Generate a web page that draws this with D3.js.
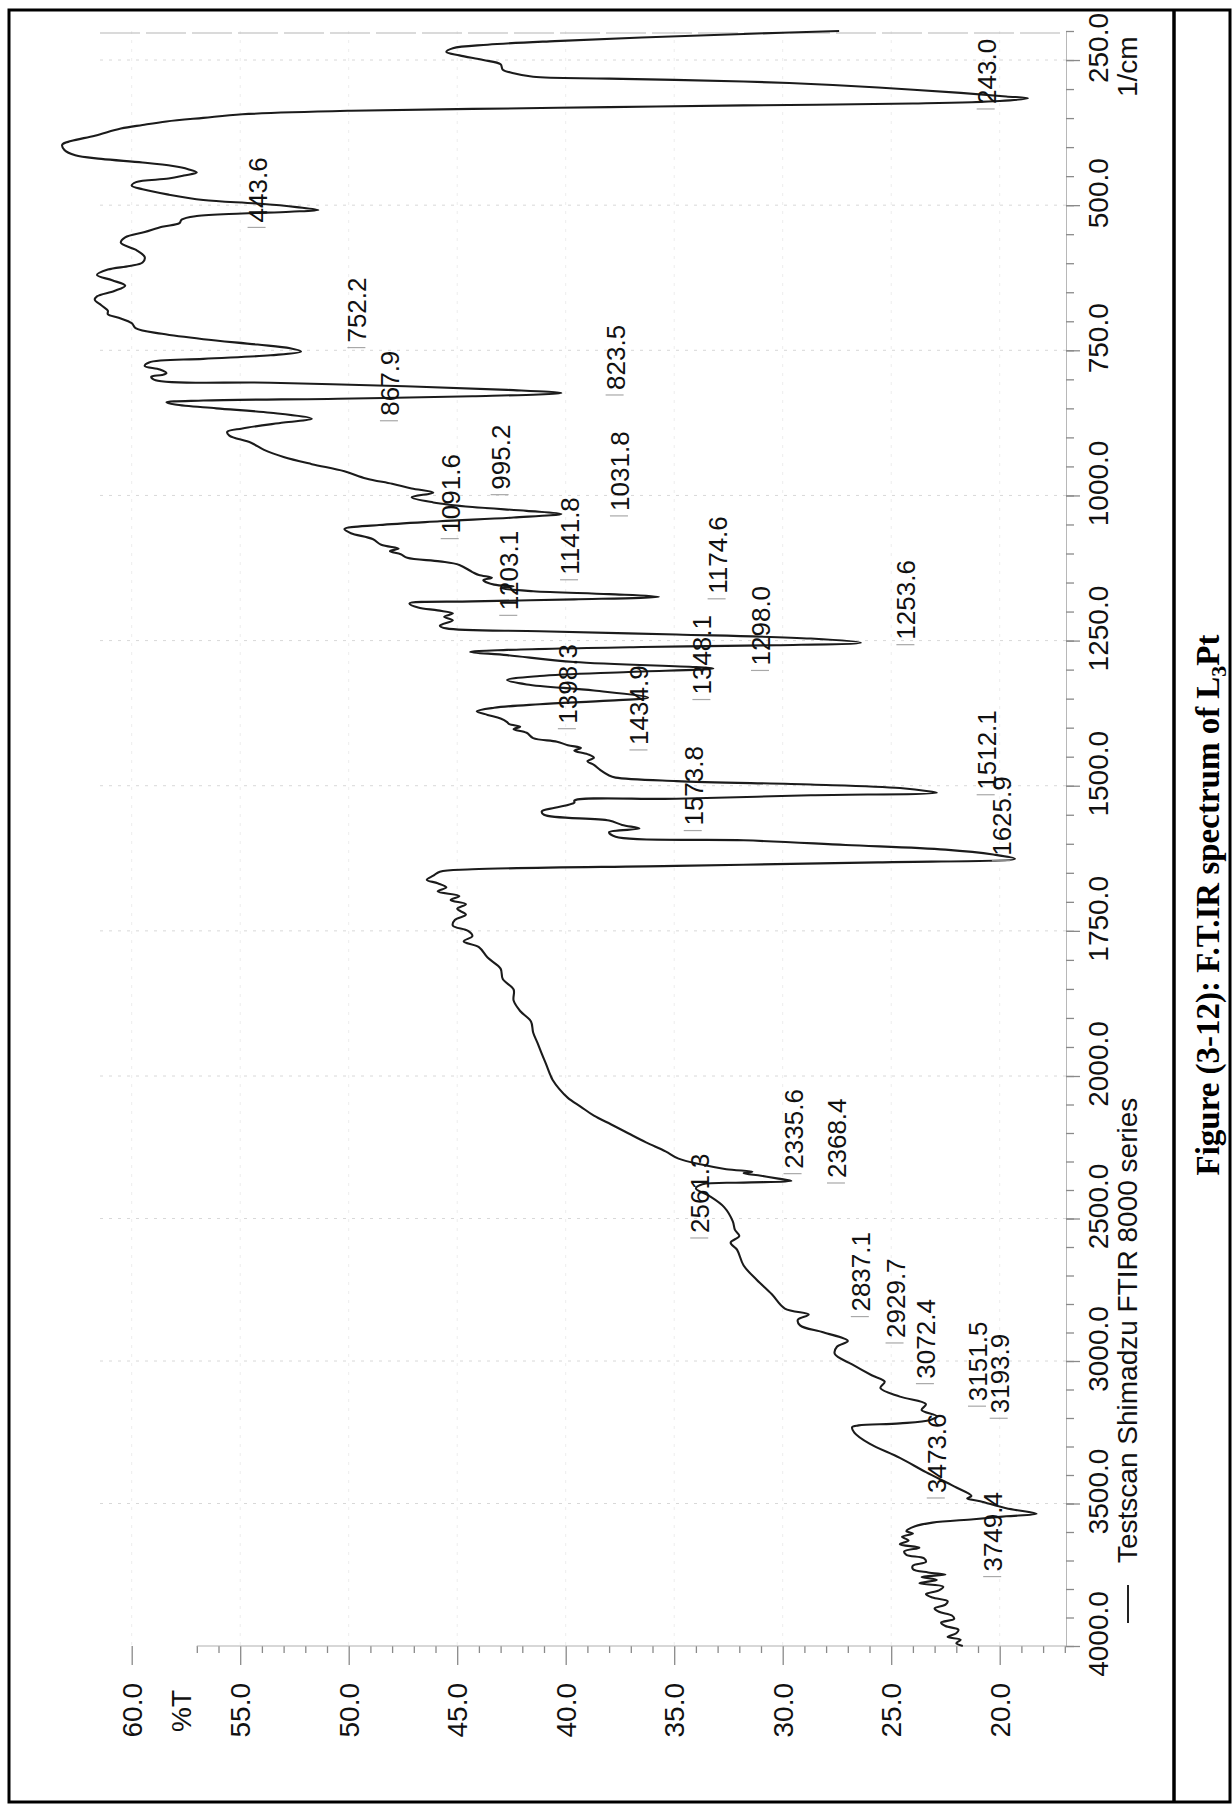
<!DOCTYPE html>
<html><head><meta charset="utf-8">
<script src="https://cdn.jsdelivr.net/npm/d3@7"></script>
<style>
html,body{margin:0;padding:0;background:#fff;}
svg{display:block;}
</style></head>
<body>
<svg id="chart" width="1232" height="1805"></svg>
<script>
// FT-IR spectrum of L3Pt, printed sideways (wavenumber runs bottom -> top, %T right -> left)

// spectrum samples: wavenumber (1/cm) and transmittance (%T)
const wavenumber = [
200,205.1,211.3,217.4,223.6,229.7,235.9,242.0,250.0,257.4,266.6,272.8,278.9,282.0,286.9,291.2,297.4,306.6,312.7,315.8,
320.7,325.0,328.1,331.2,334.2,337.3,343.5,349.6,355.8,361.9,368.1,380.4,389.6,395.7,405.0,414.2,420.3,426.5,432.6,438.0,
443.6,449.0,454.2,460.3,466.4,472.6,481.8,491.0,497.2,503.3,508.3,511.3,514.4,518.7,524.9,531.0,537.2,546.4,555.6,564.8,
577.1,589.4,598.7,604.8,611.0,620.2,629.4,638.6,647.8,657.1,663.2,672.4,681.7,687.8,694.0,703.2,712.4,721.6,730.9,740.1,
746.5,752.2,758.5,764.7,770.9,777.0,783.2,789.3,792.4,795.5,801.6,805.8,811.9,818.1,823.5,829.2,833.4,836.5,839.6,843.5,
850.0,857.5,867.9,874.5,884.6,890.7,896.9,909.2,921.5,933.8,946.1,958.4,970.7,980.0,988.0,995.2,1003.0,1012.0,1020.0,1026.5,
1031.8,1038.0,1044.5,1051.0,1058.0,1065.0,1075.0,1085.0,1091.6,1096.0,1101.3,1107.4,1113.6,1119.7,1132.0,1137.0,1141.8,1146.0,1153.6,1156.6,
1160.0,1165.0,1170.0,1174.6,1179.0,1182.5,1186.0,1193.0,1198.0,1203.1,1209.0,1215.1,1224.3,1229.0,1234.0,1239.5,1246.5,1253.6,1258.0,1261.0,
1266.0,1269.5,1275.0,1287.0,1298.0,1304.0,1311.0,1318.0,1325.5,1336.0,1348.1,1353.4,1359.6,1365.7,1371.9,1378.0,1384.2,1390.3,1394.0,1398.3,
1402.6,1408.8,1418.0,1424.1,1430.3,1434.9,1439.5,1445.6,1451.8,1457.9,1464.1,1473.3,1482.5,1486.0,1492.0,1498.0,1504.0,1510.0,1512.1,1516.5,
1522.5,1525.5,1529.0,1538.0,1544.0,1550.0,1560.0,1567.5,1573.8,1580.0,1588.0,1594.0,1602.0,1610.0,1618.5,1625.9,1632.0,1638.0,1644.0,1648.0,
1655.0,1662.0,1668.0,1675.0,1682.0,1690.0,1697.0,1704.0,1712.0,1722.0,1731.0,1741.0,1750.0,1759.0,1768.0,1778.0,1796.0,1815.0,1833.0,1851.0,
1870.0,1888.0,1906.0,1925.0,1943.0,1962.0,1980.0,1999.0,2014.0,2045.0,2076.6,2108.0,2139.3,2170.0,2201.9,2233.0,2264.5,2290.0,2310.0,2327.0,
2335.6,2341.0,2350.0,2360.0,2368.4,2374.0,2380.0,2395.0,2420.0,2460.0,2510.0,2540.0,2561.3,2585.0,2610.0,2665.0,2715.0,2766.0,2816.0,2837.1,
2855.0,2875.0,2900.0,2929.7,2950.0,2975.0,3012.0,3050.0,3072.4,3095.0,3125.0,3151.5,3172.0,3193.9,3207.0,3219.0,3226.0,3232.0,3251.0,3290.0,
3340.0,3390.0,3440.0,3473.6,3482.0,3492.0,3517.0,3536.0,3545.0,3555.0,3567.0,3580.0,3597.0,3605.0,3617.0,3630.0,3643.0,3655.0,3668.0,3680.0,
3692.0,3705.0,3718.0,3730.0,3742.0,3749.4,3758.0,3768.0,3780.0,3792.0,3805.0,3818.0,3830.0,3843.0,3855.0,3868.0,3880.0,3893.0,3905.0,3918.0,
3930.0,3943.0,3955.0,3968.0,3978.0,3990.0,4000.0
];
const transmittance = [
27.4,31.8,36.5,40.5,43.6,45.2,45.5,44.9,43.8,43.0,42.9,42.4,41.5,38.0,31.8,28.7,25.6,21.8,19.7,18.7,
20.0,24.0,31.8,38.0,44.3,49.9,54.9,56.7,58.4,59.5,60.5,61.7,62.8,63.2,63.1,62.6,61.4,59.5,58.1,57.4,
57.0,57.6,58.3,59.8,60.0,59.5,58.3,56.7,54.2,52.4,51.4,52.7,54.9,57.0,57.7,57.8,58.6,59.4,60.3,60.5,
59.8,59.4,59.5,60.1,61.1,61.6,60.9,60.3,60.8,61.6,61.7,61.4,61.1,61.1,60.6,60.0,59.8,58.6,56.7,54.2,
52.7,52.2,53.6,56.7,59.2,59.4,58.7,58.4,58.6,59.1,58.9,53.6,47.4,42.7,40.2,44.3,50.5,56.7,58.4,58.0,
56.1,53.6,51.7,53.0,54.9,55.6,55.5,54.5,53.9,53.0,51.7,50.2,49.2,48.0,47.1,46.1,47.1,46.1,44.3,41.8,
40.2,42.4,45.8,48.6,50.2,49.9,48.9,48.5,47.7,48.1,47.6,47.3,45.8,44.9,44.3,44.0,43.4,43.8,43.3,42.4,
43.0,41.5,38.0,35.7,39.6,44.3,47.2,46.8,45.9,45.2,45.6,45.2,45.8,45.5,41.2,34.9,28.7,26.4,30.3,36.5,
42.7,44.4,42.7,39.6,33.2,37.1,41.2,42.7,41.8,38.7,36.2,38.0,41.2,43.3,44.1,43.6,43.0,42.7,42.6,42.1,
42.4,41.8,41.5,40.4,39.9,39.3,39.6,39.0,38.7,39.0,38.7,38.4,38.0,37.7,34.9,28.7,24.6,23.2,22.9,28.7,
34.9,39.6,39.6,40.5,41.1,41.0,38.0,37.4,36.6,38.0,37.7,31.8,27.1,22.5,20.3,19.3,25.6,34.9,44.3,45.8,
46.1,46.4,45.9,45.5,45.9,44.9,45.3,44.6,45.0,44.6,45.1,45.2,44.5,44.3,44.7,44.0,43.6,43.0,42.9,42.4,
42.4,42.1,41.6,41.5,41.3,41.1,40.9,40.7,40.6,40.3,39.9,39.3,38.7,37.9,37.1,36.3,35.4,34.8,33.8,32.6,
31.4,31.8,31.0,30.2,29.6,31.8,33.7,34.0,33.4,32.7,32.3,32.2,32.0,32.4,32.1,31.8,31.2,30.5,29.9,28.8,
29.3,29.2,28.1,27.0,27.5,27.6,26.8,25.9,25.3,25.5,24.6,23.4,23.6,22.9,23.2,24.6,26.5,26.8,26.7,26.0,
24.6,23.4,22.1,21.3,21.5,20.9,19.7,18.3,19.7,21.2,23.1,23.9,24.3,24.0,24.5,24.2,24.6,23.7,24.4,24.3,
23.5,23.4,24.0,24.0,23.3,22.5,23.6,22.9,23.7,22.6,22.8,23.4,23.1,22.4,22.5,23.0,22.8,22.2,22.1,22.7,
22.5,21.9,22.0,22.4,21.8,22.0,21.7
];

// axis ticks
const wavenumberTicks = [4000, 3500, 3000, 2500, 2000, 1750, 1500, 1250, 1000, 750, 500, 250];
const wavenumberTickLabels = ["4000.0", "3500.0", "3000.0", "2500.0", "2000.0", "1750.0", "1500.0", "1250.0", "1000.0", "750.0", "500.0", "250.0"];
const transmittanceTicks = [60, 55, 50, 45, 40, 35, 30, 25, 20];
const transmittanceTickLabels = ["60.0", "55.0", "50.0", "45.0", "40.0", "35.0", "30.0", "25.0", "20.0"];

// picked peaks (1/cm)
const peakPositions = [243.0, 443.6, 752.2, 823.5, 867.9, 995.2, 1031.8, 1091.6, 1141.8, 1174.6,
  1203.1, 1253.6, 1298.0, 1348.1, 1398.3, 1434.9, 1512.1, 1573.8, 1625.9, 2335.6,
  2368.4, 2561.3, 2837.1, 2929.7, 3072.4, 3151.5, 3193.9, 3473.6, 3749.4];
const peakLabels = peakPositions.map(v => v.toFixed(1));

// peak label layout: column (in %T units) and shift along the wavenumber axis (px)
const peakLabelColumn = [20.6, 54.2, 49.6, 37.7, 48.1, 43.0, 37.5, 45.3, 39.8, 33.0,
  42.6, 24.3, 31.0, 33.7, 39.9, 36.6, 20.6, 34.1, 19.9, 29.5,
  27.5, 33.8, 26.4, 24.8, 23.4, 21.0, 20.0, 22.9, 20.3];
const peakLabelShift = [51, 53, -6, 0, 0, 0, 0, -12, 0, 0,
  0, 0, 0, 0, 0, 0, 0, 0, 0, 0,
  0, 0, 0, 0, 0, 0, 0, 0, 0];

const unitText = "1/cm";
const axisTitle = "%T";
const legendText = "Testscan Shimadzu FTIR 8000 series";
const captionMain = "Figure (3-12): F.T.IR spectrum of L";
const captionSub = "3";
const captionEnd = "Pt";

const svg = d3.select("#chart");
const SANS = "'Liberation Sans', Arial, Helvetica, sans-serif";
const SERIF = "'Liberation Serif', 'Times New Roman', serif";

// scales: wavenumber -> vertical position (two-speed axis), %T -> horizontal position
const y = d3.scaleLinear().domain([4000, 2000, 200]).range([1646, 1076, 31]);
const x = d3.scaleLinear().domain([60, 20]).range([131.7, 999.7]);

const frameRight = 1066;     // wavenumber axis line
const frameBottom = y(4000); // %T axis line
const frameTop = y(200);
const frameLeft = 100;

// page frame
svg.append("rect").attr("x", 9).attr("y", 10).attr("width", 1221).attr("height", 1792)
  .attr("fill", "none").attr("stroke", "#000").attr("stroke-width", 3);
svg.append("line").attr("x1", 1174).attr("x2", 1174).attr("y1", 10).attr("y2", 1802)
  .attr("stroke", "#000").attr("stroke-width", 3.5);

// faint grid
const grid = svg.append("g").attr("stroke-width", 1).attr("stroke-dasharray", "3,6");
grid.selectAll("line.h").data(wavenumberTicks.filter(v => v !== 4000)).join("line")
  .attr("x1", frameLeft).attr("x2", frameRight).attr("y1", d => y(d)).attr("y2", d => y(d))
  .attr("stroke", "#d8d8d8");
grid.selectAll("line.v").data(transmittanceTicks).join("line")
  .attr("x1", d => x(d)).attr("x2", d => x(d)).attr("y1", frameTop).attr("y2", frameBottom)
  .attr("stroke", "#ededed");

// top edge of the plotting frame
svg.append("line").attr("x1", frameLeft).attr("x2", frameRight).attr("y1", frameTop + 2).attr("y2", frameTop + 2)
  .attr("stroke", "#b5b5b5").attr("stroke-width", 1.2).attr("stroke-dasharray", "40,6");

// wavenumber axis (right side)
const minorNu = d3.range(200, 2000, 50).concat(d3.range(2000, 4001, 100));
const nuAxisMinor = d3.axisRight(y).tickValues(minorNu).tickSize(8).tickSizeOuter(0).tickFormat("");
const nuAxisMajor = d3.axisRight(y).tickValues(wavenumberTicks).tickSize(14).tickSizeOuter(0).tickFormat("");
const gNuMinor = svg.append("g").attr("transform", `translate(${frameRight},0)`).call(nuAxisMinor);
const gNuMajor = svg.append("g").attr("transform", `translate(${frameRight},0)`).call(nuAxisMajor);
[gNuMinor, gNuMajor].forEach(g => {
  g.select(".domain").attr("stroke", "#b8b8b8").attr("stroke-width", 1);
  g.selectAll(".tick line").attr("stroke", "#8a8a8a").attr("stroke-width", 1.3);
});
gNuMajor.select(".domain").remove();

svg.append("g").selectAll("text").data(wavenumberTicks).join("text")
  .attr("transform", d => `translate(1108,${y(d) - 12}) rotate(-90)`)
  .attr("text-anchor", "middle")
  .style("font-family", SANS).style("font-size", "28px").attr("fill", "#111")
  .text((d, i) => wavenumberTickLabels[i]);

svg.append("text")
  .attr("transform", `translate(1137,${y(250) + 37}) rotate(-90)`)
  .attr("text-anchor", "start")
  .style("font-family", SANS).style("font-size", "28px").attr("fill", "#111")
  .text(unitText);

// legend line under the axis labels
svg.append("line").attr("x1", 1128).attr("x2", 1128).attr("y1", y(4000) - 23).attr("y2", y(4000) - 61)
  .attr("stroke", "#222").attr("stroke-width", 2);
svg.append("text")
  .attr("transform", `translate(1137,${y(4000) - 83}) rotate(-90)`)
  .attr("text-anchor", "start")
  .style("font-family", SANS).style("font-size", "28px").attr("fill", "#111")
  .text(legendText);

// %T axis (bottom)
const minorT = d3.range(17, 58, 1).filter(v => v % 5 !== 0);
const tAxisMinor = d3.axisBottom(x).tickValues(minorT).tickSize(7).tickSizeOuter(0).tickFormat("");
const tAxisMajor = d3.axisBottom(x).tickValues(transmittanceTicks).tickSize(19).tickSizeOuter(0).tickFormat("");
const gTMinor = svg.append("g").attr("transform", `translate(0,${frameBottom})`).call(tAxisMinor);
const gTMajor = svg.append("g").attr("transform", `translate(0,${frameBottom})`).call(tAxisMajor);
[gTMinor, gTMajor].forEach(g => {
  g.select(".domain").remove();
  g.selectAll(".tick line").attr("stroke", "#8a8a8a").attr("stroke-width", 1.3);
});
svg.append("line").attr("x1", x(57)).attr("x2", frameRight).attr("y1", frameBottom).attr("y2", frameBottom)
  .attr("stroke", "#b0b0b0").attr("stroke-width", 1.2);

svg.append("g").selectAll("text").data(transmittanceTicks).join("text")
  .attr("transform", d => `translate(${x(d) + 10},${frameBottom + 37}) rotate(-90)`)
  .attr("text-anchor", "end")
  .style("font-family", SANS).style("font-size", "28px").attr("fill", "#111")
  .text((d, i) => transmittanceTickLabels[i]);

svg.append("text")
  .attr("transform", `translate(${x(57.3) + 1},${frameBottom + 44}) rotate(-90)`)
  .attr("text-anchor", "end")
  .style("font-family", SANS).style("font-size", "28px").attr("fill", "#111")
  .text(axisTitle);

// spectrum trace
const points = wavenumber.map((v, i) => [v, transmittance[i]]);
const trace = d3.line()
  .x(d => x(d[1]))
  .y(d => y(d[0]))
  .curve(d3.curveCatmullRom.alpha(0.5));
svg.append("path").datum(points)
  .attr("d", trace)
  .attr("fill", "none").attr("stroke", "#1b1b1b").attr("stroke-width", 2.1)
  .attr("stroke-linejoin", "round");

// peak marks and labels
const peaks = peakPositions.map((v, i) => ({
  v, label: peakLabels[i], col: x(peakLabelColumn[i]), pos: y(v) + peakLabelShift[i]
}));
const gPeaks = svg.append("g");
gPeaks.selectAll("line").data(peaks).join("line")
  .attr("x1", d => d.col - 10).attr("x2", d => d.col + 8)
  .attr("y1", d => d.pos + 2).attr("y2", d => d.pos + 2)
  .attr("stroke", "#a8a8a8").attr("stroke-width", 1.2);
gPeaks.selectAll("text").data(peaks).join("text")
  .attr("transform", d => `translate(${d.col + 9},${d.pos - 3}) rotate(-90)`)
  .attr("text-anchor", "start")
  .style("font-family", SANS).style("font-size", "26px").attr("fill", "#111")
  .text(d => d.label);

// caption in the side column
const cap = svg.append("text")
  .attr("transform", "translate(1219,905) rotate(-90)")
  .attr("text-anchor", "middle")
  .style("font-family", SERIF).style("font-size", "33px").style("font-weight", "bold").attr("fill", "#000");
cap.append("tspan").text(captionMain);
cap.append("tspan").attr("dy", 7).style("font-size", "22px").text(captionSub);
cap.append("tspan").attr("dy", -7).text(captionEnd);
</script>
</body></html>
